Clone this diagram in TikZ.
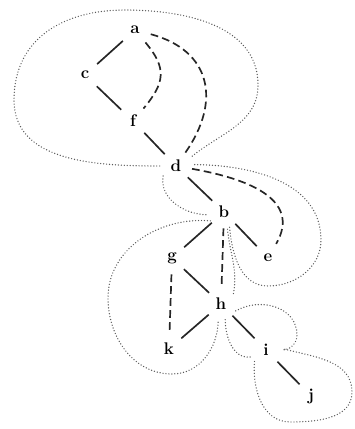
\documentclass[tikz,border=0pt]{standalone}
\usepackage{tikz}
\usetikzlibrary{positioning}

\begin{document}
\begin{tikzpicture}[
  x=0.025cm, y=0.025cm,
  every node/.style={font=\large\bfseries},
  vtx/.style={circle, inner sep=0pt, minimum size=8mm},
  tree/.style={line width=1.2pt, black!85},
  back/.style={line width=1.2pt, black!85, dash pattern=on 5.5pt off 3pt},
  blk/.style={black!65, line width=1pt, dash pattern=on 0pt off 2.1pt, line cap=round},
]
  \useasboundingbox (0,0) rectangle (355,-429);

  % vertices
  \node[vtx] (a) at (135,-30)  {a};
  \node[vtx] (c) at (85,-75)   {c};
  \node[vtx] (f) at (133,-121) {f};
  \node[vtx] (d) at (176,-166) {d};
  \node[vtx] (b) at (224,-212) {b};
  \node[vtx] (e) at (268,-258) {e};
  \node[vtx] (g) at (172,-258) {g};
  \node[vtx] (h) at (221,-304) {h};
  \node[vtx] (k) at (169,-349) {k};
  \node[vtx] (i) at (266,-350) {i};
  \node[vtx] (j) at (311,-396) {j};

  % tree edges
  \draw[tree] (a) -- (c);
  \draw[tree] (c) -- (f);
  \draw[tree] (f) -- (d);
  \draw[tree] (d) -- (b);
  \draw[tree] (b) -- (g);
  \draw[tree] (b) -- (e);
  \draw[tree] (g) -- (h);
  \draw[tree] (h) -- (k);
  \draw[tree] (h) -- (i);
  \draw[tree] (i) -- (j);

  % back edges
  \draw[back] (a) to[out=-50, in=50, looseness=1.3] (f);
  \draw[back] (a) to[out=-15, in=55, looseness=1.3] (d);
  \draw[back] (d) to[out=-10, in=60, looseness=1.2] (e);
  \draw[back] (b) -- (h);
  \draw[back] (g) -- (k);

  % blocks
  \draw[blk] (d.west) to[out=180, in=-90] (14,-100) to[out=90, in=180, looseness=1.1] (125,-10)
    to[out=0, in=90] (258,-85) to[out=-90, in=40] (d.30);
  \draw[blk] (d.218) to[out=-100, in=180] (b.190);
  \draw[blk] (b.-70) to[out=-85, in=180] (268,-286) to[out=0, in=-90] (321,-240)
    to[out=90, in=0] (d.5);
  \draw[blk] (b.213) to[out=175, in=90] (108,-298) to[out=-90, in=180] (172,-374)
    to[out=0, in=-90] (h.-100);
  \draw[blk] (h.40) to[out=80, in=-85] (b.-78);
  \draw[blk] (h.-25) to[out=30, in=90, looseness=1.1] (297,-335) to[out=-90, in=0] (i.east);
  \draw[blk] (h.-75) to[out=-90, in=190] (i.205);
  \draw[blk] (i.225) to[out=-95, in=180] (290,-422) to[out=0, in=-90] (352,-392)
    to[out=90, in=-15] (i.5);
\end{tikzpicture}
\end{document}
